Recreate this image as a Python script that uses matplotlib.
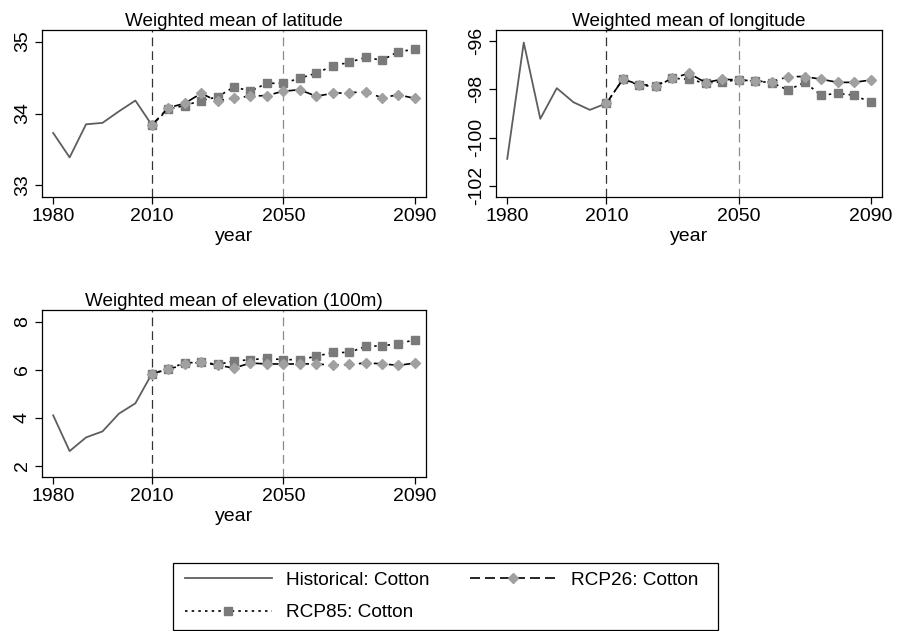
import matplotlib
matplotlib.use("Agg")
import matplotlib.pyplot as plt
from matplotlib.lines import Line2D
from matplotlib.patches import Rectangle

plt.rcParams['font.family'] = ['Liberation Sans', 'DejaVu Sans']

hist_years = [1980, 1985, 1990, 1995, 2000, 2005, 2010]
proj_years = [2010, 2015, 2020, 2025, 2030, 2035, 2040, 2045, 2050,
              2055, 2060, 2065, 2070, 2075, 2080, 2085, 2090]

lat_hist = [33.73, 33.39, 33.85, 33.87, 34.03, 34.18, 33.84]
lat_rcp26 = [33.84, 34.08, 34.14, 34.28, 34.17, 34.22, 34.24, 34.25, 34.31,
             34.33, 34.24, 34.28, 34.29, 34.30, 34.22, 34.26, 34.21]
lat_rcp85 = [33.84, 34.06, 34.11, 34.18, 34.23, 34.37, 34.31, 34.42, 34.42,
             34.49, 34.56, 34.66, 34.71, 34.78, 34.74, 34.86, 34.89]

lon_hist = [-100.88, -96.06, -99.22, -97.95, -98.53, -98.85, -98.58]
lon_rcp26 = [-98.58, -97.58, -97.80, -97.84, -97.54, -97.33, -97.72, -97.58, -97.61,
             -97.65, -97.70, -97.47, -97.47, -97.58, -97.71, -97.71, -97.61]
lon_rcp85 = [-98.58, -97.58, -97.83, -97.88, -97.54, -97.58, -97.75, -97.68, -97.61,
             -97.66, -97.72, -98.03, -97.71, -98.24, -98.17, -98.24, -98.54]

elev_hist = [4.10, 2.61, 3.18, 3.43, 4.17, 4.60, 5.83]
elev_rcp26 = [5.83, 6.02, 6.22, 6.32, 6.19, 6.07, 6.28, 6.24, 6.24,
              6.24, 6.25, 6.18, 6.22, 6.28, 6.25, 6.18, 6.28]
elev_rcp85 = [5.83, 6.04, 6.28, 6.32, 6.22, 6.36, 6.42, 6.47, 6.42,
              6.42, 6.56, 6.72, 6.72, 6.97, 7.00, 7.08, 7.25]

panels = [
    ("Weighted mean of latitude", lat_hist, lat_rcp26, lat_rcp85,
     [33, 34, 35], ["33", "34", "35"], (32.84, 35.16)),
    ("Weighted mean of longitude", lon_hist, lon_rcp26, lon_rcp85,
     [-102, -100, -98, -96], ["-102", "-100", "-98", "-96"], (-102.46, -95.54)),
    ("Weighted mean of elevation (100m)", elev_hist, elev_rcp26, elev_rcp85,
     [2, 4, 6, 8], ["2", "4", "6", "8"], (1.53, 8.49)),
]

W, H = 898, 631
fig = plt.figure(figsize=(W / 100, H / 100), dpi=100)

# axes boxes in pixels: left, top, right, bottom
boxes = [(42, 30, 426, 197), (496, 30, 882, 197), (42, 310, 426, 477)]

HIST_C = "#5e5e5e"
SQ_C = "#7a7a7a"
DIA_C = "#a0a0a0"
FS_T = 13.6
FS_K = 14.0
FS_L = 13.7

for (title, h, r26, r85, yt, ytl, ylim), (l, t, r, b) in zip(panels, boxes):
    ax = fig.add_axes([l / W, 1 - b / H, (r - l) / W, (b - t) / H])
    ax.axvline(2010, color="#333333", lw=0.9, ls=(0, (7, 4)), zorder=1)
    ax.axvline(2050, color="#8a8a8a", lw=0.9, ls=(0, (7, 4)), zorder=1)
    ax.plot(hist_years, h, color=HIST_C, lw=1.3, zorder=2)
    ax.plot(proj_years, r85, color="black", lw=1.2, ls=(0, (1.5, 2.5)),
            marker="s", ms=5.2, mfc=SQ_C, mec=SQ_C, zorder=3)
    ax.plot(proj_years, r26, color="black", lw=1.2, ls=(0, (6, 3)),
            marker="D", ms=5.2, mfc=DIA_C, mec=DIA_C, zorder=3)
    ax.set_xlim(1976.6, 2093.4)
    ax.set_ylim(*ylim)
    ax.set_xticks([1980, 2010, 2050, 2090])
    ax.set_yticks(yt)
    ax.set_yticklabels(ytl, rotation=90, va="center")
    ax.tick_params(direction="out", length=5, width=0.9, labelsize=FS_K, pad=3)
    for s in ax.spines.values():
        s.set_linewidth(0.9)
    ax.set_title(title, fontsize=FS_T, pad=3)
    ax.set_xlabel("year", fontsize=FS_K, labelpad=2)

# legend frame drawn separately (wider horizontal padding than vertical)
lx0, ly0, lx1, ly1 = 173, 563, 718, 630
fig.patches.append(Rectangle((lx0 / W, 1 - ly1 / H), (lx1 - lx0) / W,
                             (ly1 - ly0) / H, transform=fig.transFigure,
                             fill=False, edgecolor="black", lw=0.9))

handles = [
    Line2D([], [], color=HIST_C, lw=1.3),
    Line2D([], [], color="black", lw=1.2, ls=(0, (1.5, 2.5)), marker="s",
           ms=5.2, mfc=SQ_C, mec=SQ_C),
    Line2D([], [], color="black", lw=1.2, ls=(0, (6, 3)), marker="D",
           ms=5.2, mfc=DIA_C, mec=DIA_C),
]
labels = ["Historical: Cotton", "RCP85: Cotton", "RCP26: Cotton"]
leg = fig.legend(handles, labels, ncol=2, loc="upper left",
                 bbox_to_anchor=(175 / W, 1 - 562 / H), fontsize=FS_L,
                 frameon=False, handlelength=4.6, columnspacing=2.1,
                 labelspacing=0.8, borderpad=0.5, handletextpad=0.74,
                 borderaxespad=0)

fig.savefig("out.png", dpi=100, facecolor="white")
